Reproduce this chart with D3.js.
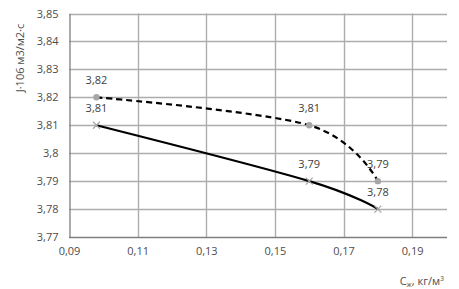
<!DOCTYPE html>
<html><head><meta charset="utf-8">
<script src="https://cdn.jsdelivr.net/npm/d3@7"></script>
<style>body{margin:0;background:#fff}svg{display:block}</style>
</head><body>
<svg id="c" width="459" height="289"></svg>
<script>
const xValues = [0.098, 0.16, 0.18];
const solidValues = [3.81, 3.79, 3.78];
const dashedValues = [3.82, 3.81, 3.79];
const xTicks = [0.09, 0.11, 0.13, 0.15, 0.17, 0.19];
const yTicks = [3.77, 3.78, 3.79, 3.80, 3.81, 3.82, 3.83, 3.84, 3.85];
const yTitle = "J·106 м3/м2·с";

const svg = d3.select("#c");
const font = "'Open Sans', sans-serif";
const txt = "#4d4d4d";
const fs = 11;
const x = d3.scaleLinear().domain([0.09, 0.2]).range([69, 446.5]);
const y = d3.scaleLinear().domain([3.77, 3.85]).range([237, 13.5]);
const fmt = v => String(+v.toFixed(2)).replace(".", ",");

// grid
const grid = svg.append("g").attr("class", "grid");
yTicks.slice(1).forEach(v => {
  const yy = Math.round(y(v)) + 0.5;
  grid.append("path").attr("d", `M${x(0.09)},${yy}H447`).attr("stroke", "#adadad").attr("stroke-width", 1.4).attr("fill", "none");
});
xTicks.slice(1).forEach(v => {
  const xx = Math.round(x(v)) + 0.5;
  grid.append("path").attr("d", `M${xx},${y(3.85)}V${y(3.77)}`).attr("stroke", "#adadad").attr("stroke-width", 1.4).attr("fill", "none");
});

// axes
const xAxis = d3.axisBottom(x).tickValues(xTicks).tickFormat(fmt).tickSize(0).tickPadding(10);
const gx = svg.append("g").attr("transform", `translate(0,${Math.round(y(3.77)) + 0.5})`).call(xAxis);
gx.select(".domain").attr("stroke", "#7f7f7f").attr("stroke-width", 1.3).attr("d", `M${x(0.09)},0H447`);
gx.selectAll("text").attr("font-family", font).attr("font-size", fs).attr("fill", txt);

const yAxis = d3.axisLeft(y).tickValues(yTicks).tickFormat(fmt).tickSize(0).tickPadding(11);
const gy = svg.append("g").attr("transform", `translate(${Math.round(x(0.09)) + 0.5},0)`).call(yAxis);
gy.select(".domain").attr("stroke", "#7f7f7f").attr("stroke-width", 1.3);
gy.selectAll("text").attr("font-family", font).attr("font-size", fs).attr("fill", txt);

// titles
svg.append("text").attr("transform", "translate(24,58) rotate(-90)").attr("text-anchor", "middle")
  .attr("font-family", font).attr("font-size", fs).attr("fill", txt).text(yTitle);
const xt = svg.append("text").attr("x", 444).attr("y", 285).attr("text-anchor", "end")
  .attr("font-family", font).attr("font-size", fs).attr("fill", txt);
xt.append("tspan").text("C");
xt.append("tspan").attr("font-size", 7).attr("dy", 2).text("ж");
xt.append("tspan").attr("dy", -2).text(", кг/м");
xt.append("tspan").attr("font-size", 7).attr("dy", -4).text("3");

const line = d3.line().x(d => x(d[0])).y(d => y(d[1])).curve(d3.curveCardinal.tension(0));
const solid = xValues.map((v, i) => [v, solidValues[i]]);
const dashed = xValues.map((v, i) => [v, dashedValues[i]]);

svg.append("path").attr("d", line(dashed)).attr("fill", "none").attr("stroke", "#000")
  .attr("stroke-width", 2.2).attr("stroke-dasharray", "6,4");
svg.append("path").attr("d", line(solid)).attr("fill", "none").attr("stroke", "#000").attr("stroke-width", 2.2);

// markers
svg.append("g").selectAll("circle").data(dashed).join("circle")
  .attr("cx", d => x(d[0])).attr("cy", d => y(d[1])).attr("r", 3.2).attr("fill", "#a6a6a6");
svg.append("g").selectAll("path").data(solid).join("path")
  .attr("d", d => { const cx = x(d[0]), cy = y(d[1]), s = 3.5; return `M${cx-s},${cy-s}L${cx+s},${cy+s}M${cx-s},${cy+s}L${cx+s},${cy-s}`; })
  .attr("stroke", "#a6a6a6").attr("stroke-width", 1.2);

// labels
const labels = dashed.concat(solid);
svg.append("g").selectAll("text").data(labels).join("text")
  .attr("x", d => x(d[0])).attr("y", d => y(d[1]) - 13).attr("text-anchor", "middle")
  .attr("font-family", font).attr("font-size", fs).attr("fill", "#404040").text(d => fmt(d[1]));
</script>
</body></html>
